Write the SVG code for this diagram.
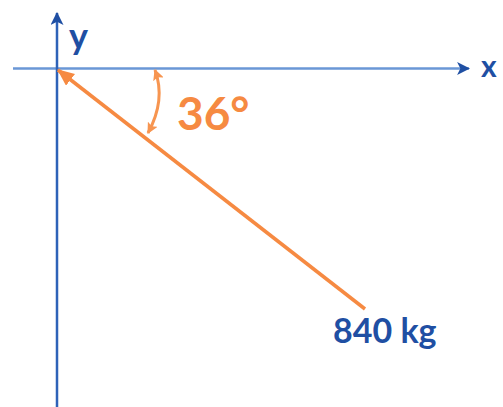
<svg xmlns="http://www.w3.org/2000/svg" width="503" height="407" viewBox="0 0 503 407">
<defs>
<style>
.axis{fill:none;stroke-width:2.5}
.lbl{font-family:Lato,"Open Sans","Liberation Sans",sans-serif;font-weight:bold;fill:#1f4fa3}
.org{fill:none;stroke:#f68a42}
</style>
<marker id="ab" viewBox="0 0 12 12" refX="11" refY="6" markerWidth="13" markerHeight="13" markerUnits="userSpaceOnUse" orient="auto-start-reverse"><path d="M0,0 L12,6 L0,12 L3,6 Z" fill="#1f4fa3"/></marker>
<marker id="ao" viewBox="0 0 16 14" refX="15" refY="7" markerWidth="17" markerHeight="15" markerUnits="userSpaceOnUse" orient="auto-start-reverse"><path d="M0,0 L16,7 L0,14 Z" fill="#f68a42"/></marker>
<marker id="aa" viewBox="0 0 10 10" refX="9" refY="5" markerWidth="11" markerHeight="11" markerUnits="userSpaceOnUse" orient="auto-start-reverse"><path d="M0,0 L10,5 L0,10 L2,5 Z" fill="#f79550"/></marker>
</defs>
<g id="connectors">
<line id="x-axis" class="axis" x1="13" y1="68.5" x2="469" y2="68.5" stroke="#6a97d6" marker-end="url(#ab)"/>
<line id="y-axis" class="axis" x1="57" y1="407" x2="57" y2="13" stroke="#2e62b8" marker-end="url(#ab)"/>
<line id="force" class="org" stroke-width="3.5" x1="365" y1="309" x2="58" y2="70" marker-end="url(#ao)"/>
<path id="angle-arc" d="M148,133 Q166,100 155,70" fill="none" stroke="#f79550" stroke-width="3" marker-start="url(#aa)" marker-end="url(#aa)"/>
</g>
<g id="label-y"><text class="lbl" x="69" y="49" font-size="36">y</text></g>
<g id="label-x"><text class="lbl" x="481" y="77" font-size="30">x</text></g>
<g id="label-angle"><text x="177" y="130" font-size="46" font-family="Lato,'Open Sans','Liberation Sans',sans-serif" font-weight="bold" fill="#f68a42">36°</text></g>
<g id="label-mass"><text class="lbl" x="333" y="343" font-size="34">840 kg</text></g>
</svg>
